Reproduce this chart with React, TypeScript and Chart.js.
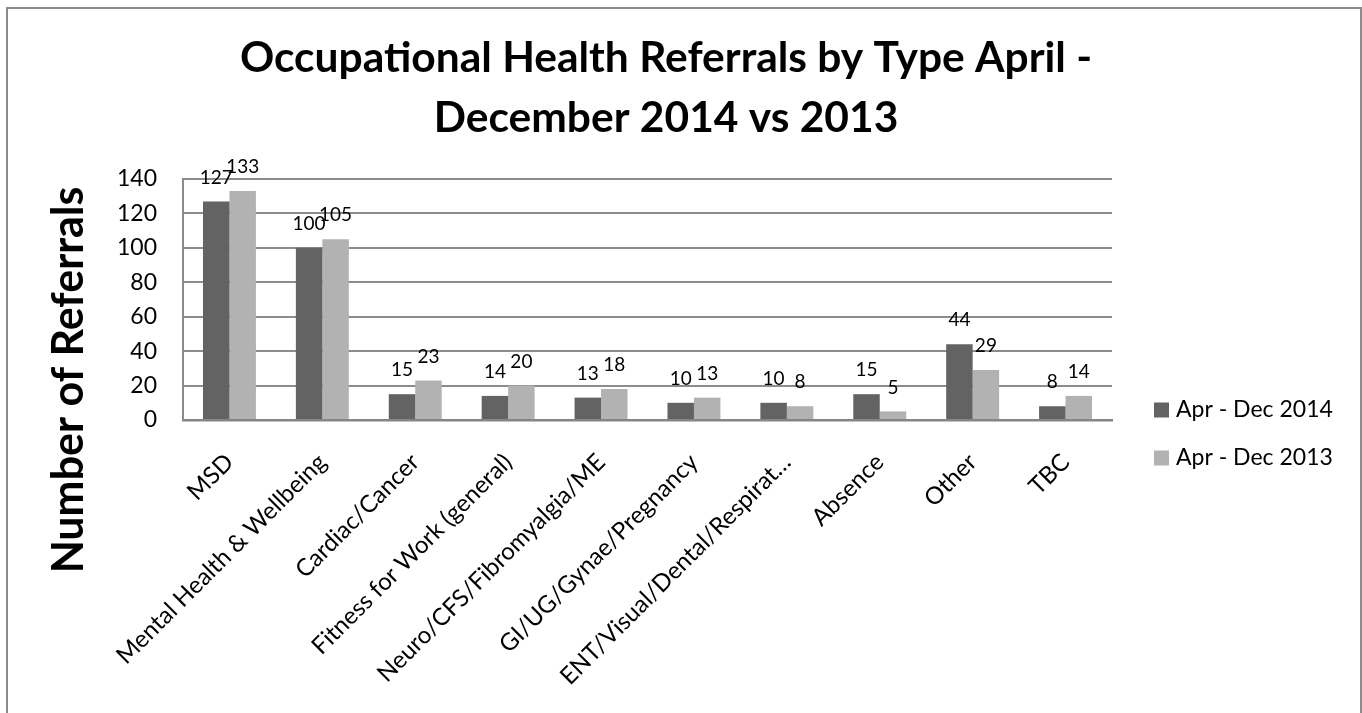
import React, { useEffect, useRef } from "react";
import { Chart, registerables } from "chart.js";

Chart.register(...registerables);

const categories = [
  "MSD",
  "Mental Health & Wellbeing",
  "Cardiac/Cancer",
  "Fitness for Work (general)",
  "Neuro/CFS/Fibromyalgia/ME",
  "GI/UG/Gynae/Pregnancy",
  "ENT/Visual/Dental/Respirat…",
  "Absence",
  "Other",
  "TBC",
];
const series2014 = [127, 100, 15, 14, 13, 10, 10, 15, 44, 8];
const series2013 = [133, 105, 23, 20, 18, 13, 8, 5, 29, 14];
const seriesLabels = ["Apr - Dec 2014", "Apr - Dec 2013"];
const seriesColors = ["#636363", "#b2b2b2"];
const yMin = 0;
const yMax = 140;
const yStep = 20;
const titleLines = ["Occupational Health Referrals by Type April -", "December 2014 vs 2013"];
const yAxisTitle = "Number of Referrals";

const FONT = "Lato";
const TITLE_SIZE = 42.5;

const dataLabelPlugin = {
  id: "dataLabels",
  afterDatasetsDraw(chart: any) {
    const ctx = chart.ctx;
    ctx.save();
    ctx.font = `19px ${FONT}`;
    ctx.fillStyle = "#000";
    ctx.textAlign = "center";
    ctx.textBaseline = "middle";
    chart.data.datasets.forEach((ds: any, i: number) => {
      const meta = chart.getDatasetMeta(i);
      meta.data.forEach((bar: any, j: number) => {
        ctx.fillText(String(ds.data[j]), bar.x, bar.y - 24);
      });
    });
    ctx.restore();
  },
};

const yTitlePlugin = {
  id: "yTitle",
  afterDraw(chart: any) {
    const ctx = chart.ctx;
    ctx.save();
    ctx.translate(69, 380);
    ctx.rotate(-Math.PI / 2);
    ctx.font = `bold 43px ${FONT}`;
    ctx.fillStyle = "#000";
    ctx.textAlign = "center";
    ctx.textBaseline = "middle";
    ctx.fillText(yAxisTitle, 0, 0);
    ctx.restore();
  },
};

const legendPlugin = {
  id: "sideLegend",
  afterDraw(chart: any) {
    const ctx = chart.ctx;
    ctx.save();
    ctx.font = `23px ${FONT}`;
    ctx.textAlign = "left";
    ctx.textBaseline = "middle";
    chart.data.datasets.forEach((ds: any, i: number) => {
      const cy = 410 + i * 48;
      ctx.fillStyle = ds.backgroundColor;
      ctx.fillRect(1154, cy - 7.5, 15, 15);
      ctx.fillStyle = "#000";
      ctx.fillText(ds.label, 1176, cy);
    });
    ctx.restore();
  },
};

export default function App() {
  const canvasRef = useRef<HTMLCanvasElement | null>(null);

  useEffect(() => {
    const canvas = canvasRef.current;
    if (!canvas) return;
    const chart = new Chart(canvas, {
      type: "bar",
      data: {
        labels: categories,
        datasets: [
          {
            label: seriesLabels[0],
            data: series2014,
            backgroundColor: seriesColors[0],
            borderWidth: 0,
            categoryPercentage: 0.57,
            barPercentage: 1.0,
          },
          {
            label: seriesLabels[1],
            data: series2013,
            backgroundColor: seriesColors[1],
            borderWidth: 0,
            categoryPercentage: 0.57,
            barPercentage: 1.0,
          },
        ],
      },
      options: {
        responsive: false,
        animation: false,
        layout: { padding: { left: 0, right: 30, top: 0, bottom: 0 } },
        plugins: {
          legend: { display: false },
          tooltip: { enabled: false },
          title: {
            display: true,
            text: titleLines,
            color: "#000",
            font: { family: FONT, size: TITLE_SIZE, weight: "bold", lineHeight: 60 / TITLE_SIZE },
            padding: { top: 28, bottom: 31 },
          },
        },
        scales: {
          x: {
            grid: { display: false, drawTicks: false },
            border: { display: true, color: "#858585", width: 2.5 },
            ticks: {
              autoSkip: false,
              minRotation: 45,
              maxRotation: 45,
              padding: 28,
              color: "#000",
              font: { family: FONT, size: 24 },
            },
            afterFit: (s: any) => {
              s.height = 713 - 420;
            },
          },
          y: {
            min: yMin,
            max: yMax,
            ticks: {
              stepSize: yStep,
              padding: 26,
              color: "#000",
              font: { family: FONT, size: 23 },
            },
            grid: { color: "#8c8c8c", lineWidth: 2, drawTicks: false },
            border: { display: true, color: "#8c8c8c", width: 2 },
            afterFit: (s: any) => {
              s.width = 183;
            },
          },
          spacer: {
            type: "linear",
            position: "right",
            display: true,
            grid: { display: false, drawTicks: false },
            border: { display: false },
            ticks: { display: false },
            afterFit: (s: any) => {
              s.width = 1362 - 30 - 1112;
            },
          },
        },
      },
      plugins: [dataLabelPlugin, yTitlePlugin, legendPlugin],
    });
    return () => chart.destroy();
  }, []);

  return (
    <div>
      <div
        style={{
          position: "absolute",
          left: 6,
          top: 7,
          width: 1356,
          height: 706,
          boxSizing: "border-box",
          border: "2px solid #8c8c8c",
          borderBottom: "none",
        }}
      />
      <canvas
        ref={canvasRef}
        width={1362}
        height={713}
        style={{ position: "absolute", left: 0, top: 0, width: 1362, height: 713 }}
      />
    </div>
  );
}
